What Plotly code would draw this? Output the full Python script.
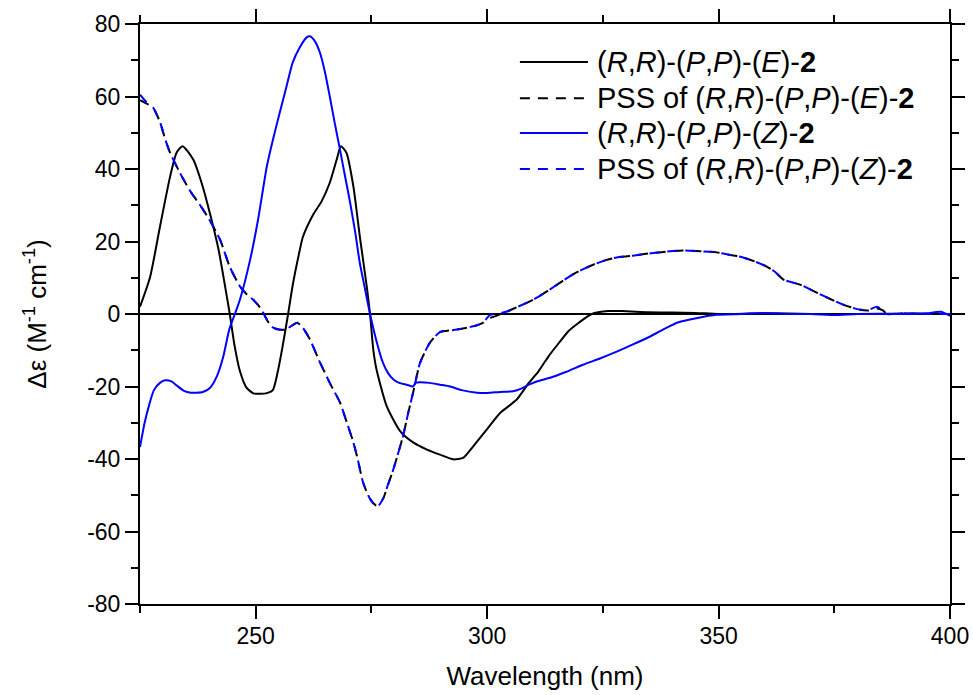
import plotly.graph_objects as go

# ---------------- data ----------------
wl_E = [225, 227.2, 229.3, 231.5, 232.9, 234.2, 236.5, 238.3, 240.1, 242, 243.4, 244.4, 245.4,
        246.6, 248, 249.5, 251, 252.2, 253.7, 254.7, 255.8, 257, 258, 259.5, 260.2, 262.4,
        264.2, 266, 267.5, 268.4, 269.6, 271.1, 272.5, 274, 274.7, 275.4, 276.1, 278.3,
        281.2, 284.1, 287, 289.8, 292.7, 294.9, 297, 299.9, 302.8, 306.4, 309, 311.1,
        313.3, 315.5, 317.6, 319.8, 322.6, 326.2, 329.1, 334.8, 340, 345, 350, 360, 370,
        380, 390, 400]
cd_E = [2, 10.3, 24, 37.9, 44.5, 46.3, 42.6, 36.2, 27.8, 17.6, 7.5, 0, -8.5,
        -15.8, -20.3, -21.9, -22, -21.9, -21, -16.3, -9, 0, 8, 17.5, 21.3, 27.4,
        31, 36.2, 42.6, 46.3, 44.5, 35.2, 21.3, 7.5, 0, -9.8, -15.3, -25.4,
        -32.3, -35.5, -37.4, -38.8, -40.1, -39.6, -36.5, -31.9, -27.3, -23.6, -19, -15.8,
        -11.6, -8, -4.7, -2.4, 0, 0.8, 0.8, 0.5, 0.4, 0.3, 0, 0.2, 0,
        0, 0.1, 0]

wl_pssE = [225, 226.5, 227.8, 229.3, 230.5, 231.5, 233.6, 235.8, 238, 240, 242.3, 244.4,
           246.6, 248, 249.4, 250.5, 251.6, 252.6, 253.7, 255, 256.5, 257.8, 259, 260.3,
           261.7, 263.9, 266, 268.2, 269.7, 271, 271.9, 273.2, 274.7, 276.2, 277.5, 278.6,
           279.7, 281.8, 283, 284, 285.5, 287.6, 289.8, 293.5, 297, 299, 300.5, 302, 304.3,
           307, 310, 313, 315.7, 319, 322.9, 325.5, 328, 331.5, 335, 338.5, 342.3, 346,
           349.6, 352.5, 355.3, 358, 360.4, 362.3, 364, 367.6, 371.2, 374, 376.9, 380.5,
           382.5, 384.2, 385.5, 386.4, 390, 395, 400]
cd_pssE = [59, 58, 57, 53, 48, 44.5, 39, 34, 30, 26, 20.5, 13,
           7.6, 5.5, 4, 2.5, 0.4, -2, -3.7, -4.3, -4.3, -3.2, -2.4, -4,
           -7, -13.4, -19, -24.4, -30, -35, -39.3, -46.5, -51, -53, -51, -47,
           -43, -33.8, -27, -21.7, -13.5, -8, -5, -4.3, -3.4, -2.5, -1.2, -0.5, 0.7,
           2.2, 4, 6.3, 8.6, 11.3, 13.6, 14.8, 15.6, 16.1, 16.7, 17.2, 17.5, 17.3,
           17, 16.3, 15.6, 14.4, 13.1, 11.5, 9.5, 8.1, 5.9, 4.2, 2.6, 1.2,
           1.0, 1.5, 1.0, 0, 0.2, 0, 0]

wl_pssZ = [225, 226.5, 227.8, 229.3, 230.5, 231.5, 233.6, 235.8, 238, 240, 242.3, 244.4,
           246.6, 248, 249.4, 250.5, 251.6, 252.6, 253.7, 255, 256.5, 257.8, 259, 260.3,
           261.7, 263.9, 266, 268.2, 269.7, 271, 271.9, 273.2, 274.7, 276.2, 277.5, 278.6,
           279.7, 281.8, 283, 284, 285.5, 287.6, 289.8, 293.5, 297, 299, 300.6, 302, 304.3,
           307, 310, 313, 315.7, 319, 322.9, 325.5, 328, 331.5, 335, 338.5, 342.3, 346,
           349.6, 352.5, 355.3, 358, 360.4, 362.3, 364, 367.6, 371.2, 374, 376.9, 380.5,
           382.5, 384.2, 385.5, 386.4, 390, 395, 400]
cd_pssZ = [60.5, 58.3, 57, 53, 48, 44.5, 39, 34, 30, 26, 20.5, 13,
           7.6, 5.5, 4, 2.5, 0.4, -2, -3.7, -4.3, -4.3, -3.2, -2.4, -4,
           -7, -13.4, -19, -24.4, -30, -35, -39.3, -46.5, -51, -53.3, -51, -47,
           -43, -33.8, -27, -21.7, -13.5, -8, -5, -4.3, -3.4, -2.5, -0.3, 0, 0.7,
           2.2, 4, 6.3, 8.6, 11.3, 13.6, 14.8, 15.6, 16.1, 16.7, 17.2, 17.5, 17.3,
           17, 16.3, 15.6, 14.4, 13.1, 11.5, 9.5, 8.1, 5.9, 4.2, 2.6, 1.2,
           1.2, 2.0, 1.0, 0, 0.2, 0, 0]

wl_Z = [225, 226, 227, 228, 229.3, 230.4, 231.8, 233, 234.5, 236, 237.2, 238.6, 240.1,
        241.6, 243, 244.3, 245.5, 246.6, 248.8, 250.5, 252.4, 253.8, 255.2, 256.6, 258,
        259.5, 261, 261.7, 262.8, 263.9, 265, 266, 267.1, 268.2, 269.3, 270.4, 271.5,
        272.5, 273.6, 274.7, 276.2, 277.5, 278.6, 279.7, 281, 282.6, 284, 284.5, 285.5,
        287.6, 289.8, 292, 294.5, 297.8, 300, 302.8, 305.6, 307.5, 309, 311, 313.6, 317,
        320.7, 324.5, 328, 331.5, 335.2, 338, 341, 343.8, 346.5, 349.6, 355, 360, 365,
        370, 375, 380, 385, 390, 395, 398, 400]
cd_Z = [-36.7, -30, -25, -21, -19, -18.3, -18.6, -19.8, -21.2, -21.7, -21.7, -21.5, -20.4,
        -17.2, -11.7, -4.2, 0, 4, 15, 26, 40.7, 48.5, 55.6, 62.5, 69.4,
        73.5, 76.3, 76.6, 75.2, 72, 66.5, 60, 52.5, 45.4, 38, 30.7, 22.5,
        14, 7, 0, -8, -13.5, -16.3, -18, -19, -19.5, -20, -19, -18.8,
        -19, -19.5, -20, -21, -21.7, -21.8, -21.5, -21.3, -20.5, -19.5, -18.5, -17.6, -16,
        -14, -12.2, -10.4, -8.4, -6.2, -4.3, -2.4, -1.5, -0.8, -0.2, 0, 0.3, 0,
        0, -0.3, 0, 0, 0, 0.2, 0.6, -0.5]

x_tickvals = [250, 300, 350, 400]
x_ticktext = ["250", "300", "350", "400"]
y_tickvals = [-80, -60, -40, -20, 0, 20, 40, 60, 80]
y_ticktext = ["-80", "-60", "-40", "-20", "0", "20", "40", "60", "80"]

names = ["(<i>R</i>,<i>R</i>)-(<i>P</i>,<i>P</i>)-(<i>E</i>)-<b>2</b>",
         "PSS of (<i>R</i>,<i>R</i>)-(<i>P</i>,<i>P</i>)-(<i>E</i>)-<b>2</b>",
         "(<i>R</i>,<i>R</i>)-(<i>P</i>,<i>P</i>)-(<i>Z</i>)-<b>2</b>",
         "PSS of (<i>R</i>,<i>R</i>)-(<i>P</i>,<i>P</i>)-(<i>Z</i>)-<b>2</b>"]
colors = ["#000000", "#000000", "#0000FF", "#0000FF"]
dashes = ["solid", "10px,8px", "solid", "10px,8px"]
series = [(wl_E, cd_E), (wl_pssE, cd_pssE), (wl_Z, cd_Z), (wl_pssZ, cd_pssZ)]

FONT = "Liberation Sans, Arial, sans-serif"

fig = go.Figure()
for (xs, ys), nm, c, d in zip(series, names, colors, dashes):
    fig.add_trace(go.Scatter(x=xs, y=ys, mode="lines", name=nm, showlegend=False,
                             line=dict(color=c, width=2, dash=d, shape="spline",
                                       smoothing=0.6)))

# manual legend (long line samples like the original)
leg_y = [0.9345, 0.872, 0.812, 0.750]
for nm, c, d, yy in zip(names, colors, dashes, leg_y):
    fig.add_shape(type="line", xref="paper", yref="paper", x0=0.469, x1=0.553, y0=yy, y1=yy,
                  line=dict(color=c, width=2, dash=d))
    fig.add_annotation(xref="paper", yref="paper", x=0.5617, y=yy, text=nm, showarrow=False,
                       xanchor="left", yanchor="middle",
                       font=dict(family=FONT, size=29, color="black"))

axis_common = dict(showline=True, linewidth=2, linecolor="black", mirror="allticks",
                   ticks="outside", ticklen=13, tickwidth=2, tickcolor="black",
                   showgrid=False, automargin=False,
                   tickfont=dict(family=FONT, size=23, color="black"))

fig.update_xaxes(range=[225, 400], tickmode="array", tickvals=x_tickvals, ticktext=x_ticktext,
                 minor=dict(tickmode="linear", dtick=25, tick0=225, ticklen=7, tickwidth=2,
                            ticks="outside", tickcolor="black", showgrid=False),
                 ticklabelstandoff=-3,
                 title=dict(text="Wavelength (nm)", font=dict(family=FONT, size=26, color="black"),
                            standoff=19),
                 zeroline=False, **axis_common)
fig.update_yaxes(range=[-80, 80], tickmode="array", tickvals=y_tickvals, ticktext=y_ticktext,
                 minor=dict(tickmode="linear", dtick=10, tick0=0, ticklen=7, tickwidth=2,
                            ticks="outside", tickcolor="black", showgrid=False),
                 title=dict(text="\u0394\u03b5 (M<sup>-1</sup> cm<sup>-1</sup>)",
                            font=dict(family=FONT, size=26, color="black"), standoff=33),
                 zeroline=True, zerolinecolor="black", zerolinewidth=2, **axis_common)

fig.update_layout(width=973, height=695, margin=dict(l=140, r=23, t=24, b=91),
                  plot_bgcolor="white", paper_bgcolor="white", showlegend=False,
                  font=dict(family=FONT, color="black"))

fig.write_html("out.html", config={"displayModeBar": False},
               post_script="document.body.style.margin='0';document.body.style.padding='0';")
